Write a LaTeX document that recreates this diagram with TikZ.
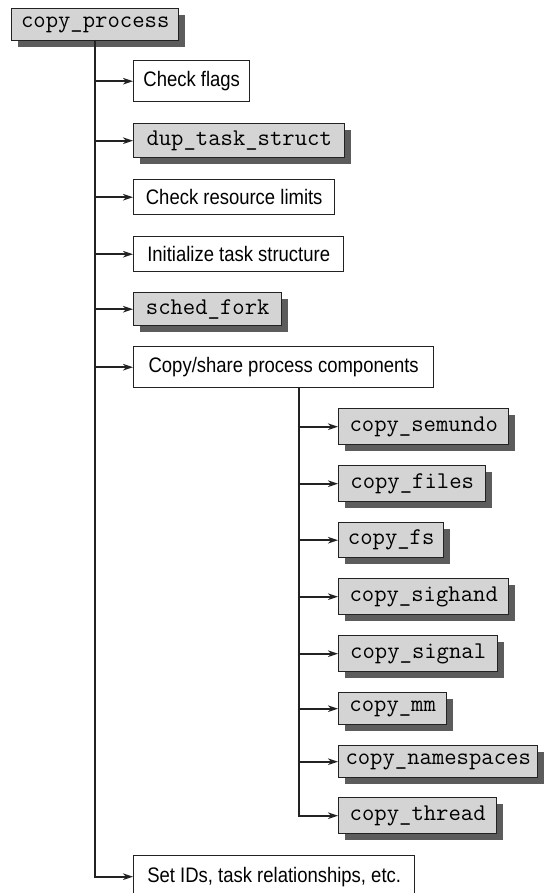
\documentclass[tikz,border=0pt]{standalone}
\usepackage{fontspec}
\setmainfont{Liberation Sans}
\newfontfamily\condfont[FakeStretch=0.88]{Liberation Sans}
\usetikzlibrary{arrows.meta,shadows}
\definecolor{boxgray}{HTML}{D4D4D4}
\definecolor{shadowgray}{HTML}{5C5C5C}
\definecolor{linecol}{HTML}{222222}
\begin{document}
\begin{tikzpicture}[x=1pt,y=-1pt,
  base/.style={draw=linecol, line width=1.4pt, inner sep=0pt, anchor=north west},
  textbox/.style={base, fill=white, font=\condfont\fontsize{21}{24}\selectfont},
  codebox/.style={base, fill=boxgray, font=\ttfamily\fontsize{24}{26}\selectfont,
    drop shadow={shadow xshift=6pt, shadow yshift=-6pt, fill=shadowgray, opacity=1}},
  trunk/.style={draw=linecol, line width=2.8pt},
  arr/.style={draw=linecol, line width=1.8pt, -{Stealth[length=10pt,width=6.5pt,inset=3pt]}}
]
\useasboundingbox (0,0) rectangle (543,893);
% boxes: (left,top), width, height
\node[codebox, minimum width=167pt, minimum height=32pt] (cp) at (11,8) {copy\_process};
\node[textbox, minimum width=116pt, minimum height=41pt] (flags) at (133,60) {Check flags};
\node[codebox, minimum width=211pt, minimum height=34pt] (dup) at (133,123) {dup\_task\_struct};
\node[textbox, minimum width=201pt, minimum height=35pt] (res) at (133,179) {Check resource limits};
\node[textbox, minimum width=210pt, minimum height=35pt] (init) at (133,236) {Initialize task structure};
\node[codebox, minimum width=148pt, minimum height=33pt] (sched) at (133,292) {sched\_fork};
\node[textbox, minimum width=300pt, minimum height=41pt] (share) at (133,346) {Copy/share process components};
\node[textbox, minimum width=281pt, minimum height=42pt] (ids) at (133,855) {Set IDs, task relationships, etc.};

\node[codebox, minimum width=170pt, minimum height=36pt] (semundo) at (338,408) {copy\_semundo};
\node[codebox, minimum width=147pt, minimum height=36pt] (files) at (338,465) {copy\_files};
\node[codebox, minimum width=105pt, minimum height=35pt] (fs) at (338,522) {copy\_fs};
\node[codebox, minimum width=170pt, minimum height=36pt] (sighand) at (338,578) {copy\_sighand};
\node[codebox, minimum width=159pt, minimum height=36pt] (signal) at (338,635) {copy\_signal};
\node[codebox, minimum width=108pt, minimum height=32pt] (mm) at (338,692) {copy\_mm};
\node[codebox, minimum width=199pt, minimum height=32pt] (ns) at (338,745) {copy\_namespaces};
\node[codebox, minimum width=158pt, minimum height=36pt] (thread) at (338,797) {copy\_thread};

% main trunk
\coordinate (t0) at (95,40);
\draw[trunk] (t0) -- ([yshift=-0.9pt]t0 |- ids.west);
\draw[arr] (t0 |- ids.west) -- (ids.west);
\foreach \n in {flags,dup,res,init,sched,share}
  \draw[arr] (t0 |- \n.west) -- (\n.west);

% sub trunk
\coordinate (s0) at (299,387);
\draw[trunk] (s0) -- ([yshift=-0.9pt]s0 |- thread.west);
\foreach \n in {semundo,files,fs,sighand,signal,mm,ns,thread}
  \draw[arr] (s0 |- \n.west) -- (\n.west);
\end{tikzpicture}
\end{document}
